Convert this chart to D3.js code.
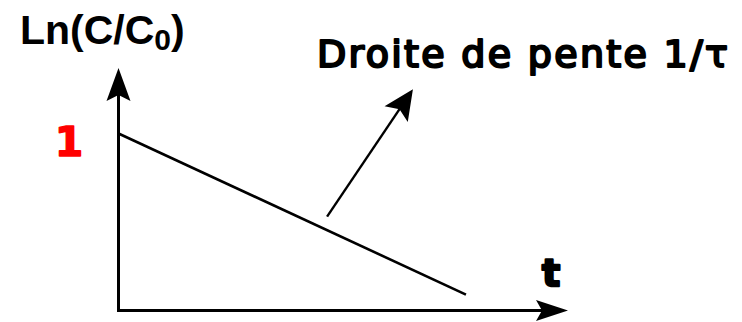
<!DOCTYPE html>
<html>
<head>
<meta charset="utf-8">
<script src="https://cdn.jsdelivr.net/npm/d3@7"></script>
<style>
  html, body { margin: 0; padding: 0; background: #fff; }
  svg { display: block; }
</style>
</head>
<body>
<svg id="chart" width="742" height="322"></svg>
<script>
// Axis extents (t and ln(C/C0) units)
const tAxisMax = [10];
const lnAxisMax = [1.37];

// Straight line ln(C/C0) = 1 - t/τ
const lineT = [0, 7.73];
const lineLn = [1, 0.09];

// Annotation arrow pointing from the line towards its label
const noteT = [4.64, 6.55];
const noteLn = [0.53, 1.25];

// Tick label on the vertical axis
const yTickValues = [1];
const yTickLabels = ["1"];

const svg = d3.select("#chart");

const x = d3.scaleLinear().domain([0, tAxisMax[0]]).range([118.5, 568]);
const y = d3.scaleLinear().domain([0, lnAxisMax[0]]).range([310.5, 68]);

// Arrow head with a notched back, pointing from (x0,y0) to tip (x1,y1)
function arrowHead(x0, y0, x1, y1, len, half, notch) {
  const a = Math.atan2(y1 - y0, x1 - x0);
  const ux = Math.cos(a), uy = Math.sin(a);
  const px = -uy, py = ux;
  const bx = x1 - ux * len, by = y1 - uy * len;
  const nx = x1 - ux * (len - notch), ny = y1 - uy * (len - notch);
  return `M${x1},${y1}L${bx + px * half},${by + py * half}L${nx},${ny}L${bx - px * half},${by - py * half}Z`;
}

const ink = "#000";

// Vertical axis
svg.append("line")
  .attr("x1", x(0)).attr("y1", y(0))
  .attr("x2", x(0)).attr("y2", y(lnAxisMax[0]) + 20)
  .attr("stroke", ink).attr("stroke-width", 3);
svg.append("path")
  .attr("d", arrowHead(x(0), y(0), x(0), y(lnAxisMax[0]), 33, 12, 6))
  .attr("fill", ink);

// Horizontal axis
svg.append("line")
  .attr("x1", x(0) - 1.5).attr("y1", y(0))
  .attr("x2", x(tAxisMax[0]) - 20).attr("y2", y(0))
  .attr("stroke", ink).attr("stroke-width", 3);
svg.append("path")
  .attr("d", arrowHead(x(0), y(0), x(tAxisMax[0]), y(0), 32, 10.5, 6))
  .attr("fill", ink);

// The straight line
const line = d3.line().x(d => x(d[0])).y(d => y(d[1]));
svg.append("path")
  .attr("d", line(d3.zip(lineT, lineLn)))
  .attr("fill", "none")
  .attr("stroke", ink).attr("stroke-width", 2.6);

// Annotation arrow
const n0 = [x(noteT[0]), y(noteLn[0])];
const n1 = [x(noteT[1]), y(noteLn[1])];
svg.append("line")
  .attr("x1", n0[0]).attr("y1", n0[1])
  .attr("x2", n0[0] + (n1[0] - n0[0]) * 0.85).attr("y2", n0[1] + (n1[1] - n0[1]) * 0.85)
  .attr("stroke", ink).attr("stroke-width", 2.4);
svg.append("path")
  .attr("d", arrowHead(n0[0], n0[1], n1[0], n1[1], 30, 14, 6))
  .attr("fill", ink);

// Tick label "1"
svg.selectAll("text.ytick")
  .data(yTickValues)
  .join("text")
  .attr("class", "ytick")
  .attr("x", 69)
  .attr("y", d => y(d) + 23)
  .attr("text-anchor", "middle")
  .attr("font-family", "DejaVu Sans")
  .attr("font-weight", "bold")
  .attr("font-size", 41)
  .attr("fill", "#ff0000")
  .attr("stroke", "#ff0000")
  .attr("stroke-width", 1.5)
  .attr("stroke-linejoin", "round")
  .text((d, i) => yTickLabels[i]);

// Axis titles
const yTitle = svg.append("text")
  .attr("x", 20).attr("y", 44)
  .attr("font-family", "Liberation Sans")
  .attr("font-weight", "bold")
  .attr("font-size", 41)
  .attr("fill", ink);
yTitle.append("tspan").text("Ln(C/C");
yTitle.append("tspan").attr("font-size", 30).attr("dy", 6).text("0");
yTitle.append("tspan").attr("dy", -6).text(")");

svg.append("text")
  .attr("x", 551).attr("y", 286)
  .attr("text-anchor", "middle")
  .attr("font-family", "DejaVu Sans")
  .attr("font-weight", "bold")
  .attr("font-size", 38)
  .attr("fill", ink)
  .attr("stroke", ink)
  .attr("stroke-width", 2.5)
  .attr("stroke-linejoin", "round")
  .text("t");

// Line label
svg.append("text")
  .attr("x", 317).attr("y", 67)
  .attr("font-family", "DejaVu Sans")
  .attr("font-size", 38)
  .attr("letter-spacing", 2.3)
  .attr("fill", ink)
  .attr("stroke", ink)
  .attr("stroke-width", 2.2)
  .attr("stroke-linejoin", "round")
  .text("Droite de pente 1/τ");
</script>
</body>
</html>
